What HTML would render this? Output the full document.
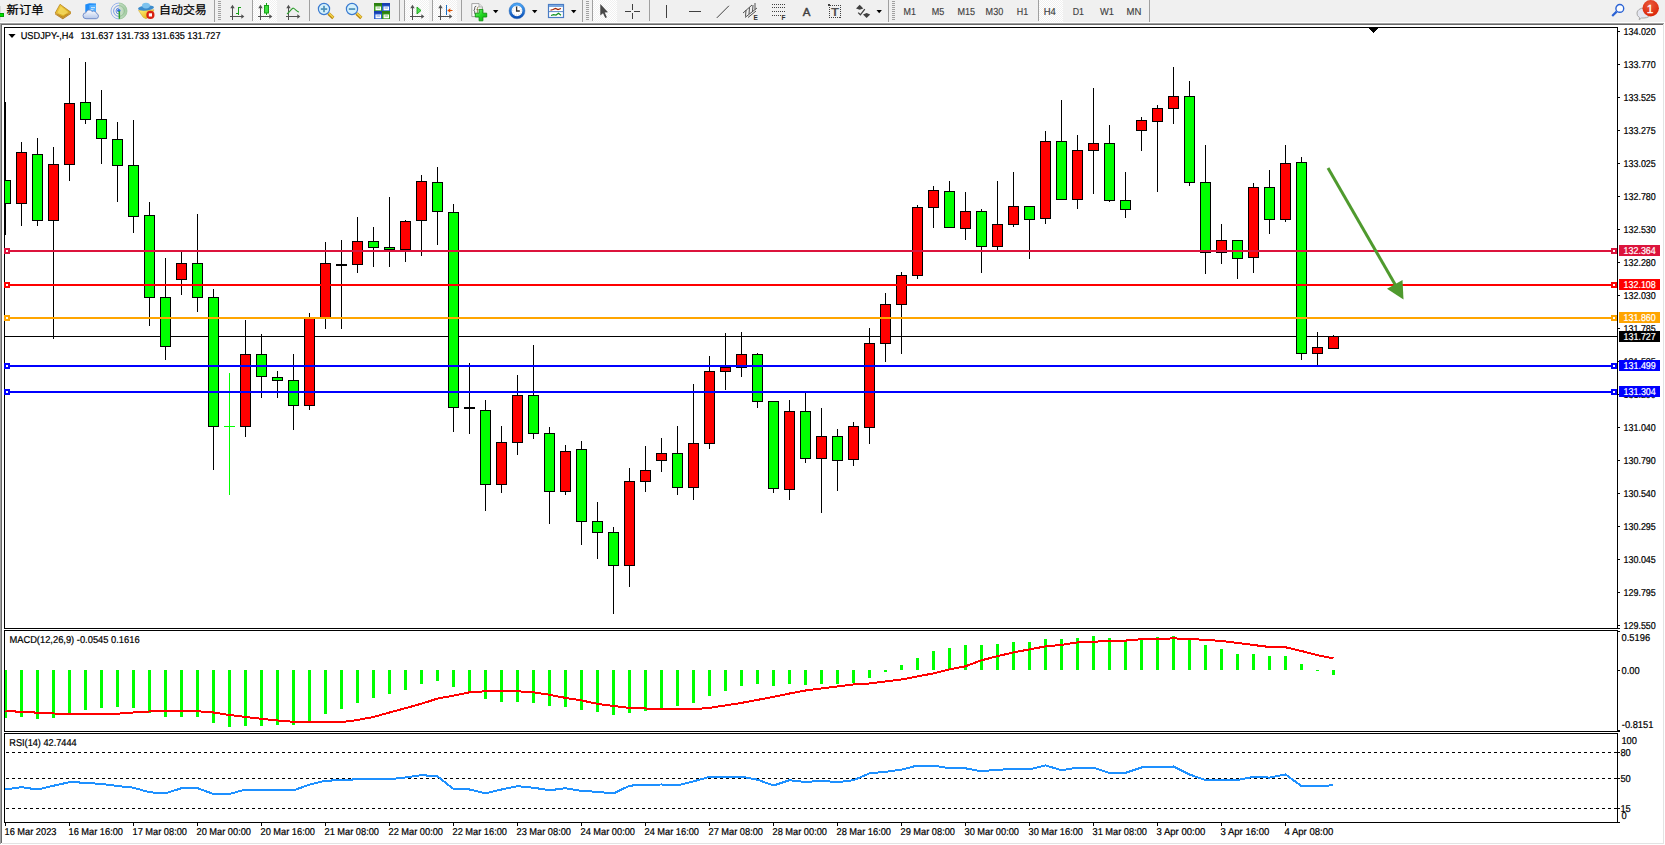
<!DOCTYPE html>
<html><head><meta charset="utf-8"><title>USDJPY-,H4</title>
<style>
html,body{margin:0;padding:0;background:#fff;overflow:hidden}
body{width:1665px;height:845px;font-family:"Liberation Sans","Noto Sans CJK SC",sans-serif}
svg{display:block}
</style></head><body>
<svg width="1665" height="845" viewBox="0 0 1665 845">
<rect x="0" y="0" width="1665" height="845" fill="#fff" />
<rect x="0" y="0" width="1665" height="22" fill="#f0f0f0" />
<rect x="0" y="22" width="1665" height="1" fill="#fff" />
<rect x="0" y="23" width="1664" height="1" fill="#a0a0a0" />
<rect x="1" y="24" width="1663" height="1" fill="#696969" />
<rect x="0" y="23" width="1" height="821" fill="#a0a0a0" />
<rect x="1" y="24" width="1" height="819" fill="#696969" />
<rect x="1663" y="24" width="1" height="820" fill="#e3e3e3" />
<rect x="2" y="843" width="1662" height="1" fill="#e3e3e3" />
<defs><pattern id="chk" width="2" height="2" patternUnits="userSpaceOnUse"><rect width="2" height="2" fill="#ffffff"/><rect width="1" height="1" fill="#f0f0f0"/><rect x="1" y="1" width="1" height="1" fill="#f0f0f0"/></pattern>
<radialGradient id="badge" cx="0.45" cy="0.3" r="0.8"><stop offset="0" stop-color="#ea5a3c"/><stop offset="1" stop-color="#d81e00"/></radialGradient>
<linearGradient id="gold" x1="0" y1="0" x2="1" y2="1"><stop offset="0" stop-color="#f7d64a"/><stop offset="1" stop-color="#c8920e"/></linearGradient>
<linearGradient id="blu" x1="0" y1="0" x2="0" y2="1"><stop offset="0" stop-color="#3aa0ff"/><stop offset="1" stop-color="#1273e0"/></linearGradient>
<linearGradient id="clk" x1="0" y1="0" x2="0" y2="1"><stop offset="0" stop-color="#4aa4f4"/><stop offset="1" stop-color="#0c4fb4"/></linearGradient><linearGradient id="plus" x1="0" y1="0" x2="1" y2="1"><stop offset="0" stop-color="#7cf07c"/><stop offset="0.5" stop-color="#22d822"/><stop offset="1" stop-color="#10a810"/></linearGradient>
<linearGradient id="cld" x1="0" y1="0" x2="0" y2="1"><stop offset="0" stop-color="#ffffff"/><stop offset="1" stop-color="#b4c6ea"/></linearGradient><linearGradient id="face" x1="0" y1="0" x2="1" y2="1"><stop offset="0" stop-color="#fff27a"/><stop offset="1" stop-color="#e0a400"/></linearGradient><radialGradient id="sig" cx="0" cy="0.5" r="1"><stop offset="0" stop-color="#5aa85a" stop-opacity="0.15"/><stop offset="1" stop-color="#5aa85a" stop-opacity="0.55"/></radialGradient>
</defs>
<rect x="0" y="6" width="1" height="14" fill="#d8d8d8"/>
<rect x="0" y="13" width="4" height="4" fill="#00a000"/><rect x="0" y="14" width="3" height="2" fill="#00e000"/>
<g font-family="'Liberation Sans','Noto Sans CJK SC',sans-serif" font-size="11.7" fill="#000" stroke="#000" stroke-width="0.25">
<text x="6.6" y="14.3" textLength="36.9" lengthAdjust="spacingAndGlyphs">新订单</text>
<text x="159.1" y="14.3" textLength="47.7" lengthAdjust="spacingAndGlyphs">自动交易</text>
</g>
<polygon points="55.2,13 60,4.3 71,12.2 63,17.4" fill="url(#gold)" stroke="#b07a10" stroke-width="0.7"/>
<polygon points="55.2,13 63,17.4 71,12.2 71,13.8 62.8,19.2 55.3,14.6" fill="#a86e12"/>
<polygon points="55.3,13.8 62.9,18.2 71,12.9" fill="none" stroke="#e8c060" stroke-width="0.5"/>
<polygon points="57.6,12.4 60.8,6.4 68.4,11.9 63.2,15.4" fill="#fbe870" opacity="0.6"/>
<polygon points="85.3,4.6 89.2,3.2 96,3.4 96,12.5 89.2,12.8 85.3,12" fill="#1e8cf8"/>
<polygon points="89.4,5 96,4.4 96,12.5 89.4,12.8" fill="#52b0ff"/><rect x="91" y="7.2" width="4" height="0.9" fill="#e4f2ff"/><rect x="90.5" y="9.2" width="3" height="0.9" fill="#d0e8ff"/>
<path d="M86,18.7 a3,3 0 0 1 0,-6 a3.4,3.4 0 0 1 6.2,-1.2 a3,3 0 0 1 4.4,2 a2.7,2.7 0 0 1 -0.2,5.2 z" fill="url(#cld)" stroke="#6a86c4" stroke-width="0.9"/>
<path d="M119,3 A8,8 0 0 1 119,19 Z" fill="url(#sig)"/>
<g fill="none" stroke-width="1" opacity="0.8"><path d="M119,3 a8,8 0 0 0 0,16" stroke="#86a8ea"/><path d="M119,5.6 a5.4,5.4 0 0 0 0,10.8" stroke="#5b8be0"/><path d="M119,8 a3,3 0 0 0 0,6" stroke="#4a78d8"/>
<path d="M119,3 a8,8 0 0 1 0,16" stroke="#9cc89c"/><path d="M119,5.6 a5.4,5.4 0 0 1 0,10.8" stroke="#8cc08c"/></g>
<circle cx="118.8" cy="10.6" r="1.7" fill="#2f6fdc"/><rect x="118.6" y="11" width="1.5" height="7.8" fill="#30a030"/>
<polygon points="138.5,10.4 154,9.8 151,15.5 146,18.8 143.2,17.3" fill="url(#face)" stroke="#c9a020" stroke-width="0.5"/>
<ellipse cx="146" cy="8" rx="8" ry="2.5" fill="#3c8ccc" transform="rotate(-6 146 8)"/><ellipse cx="146" cy="5.6" rx="4" ry="2.8" fill="#7cc2ee"/>
<circle cx="150.4" cy="14.9" r="4.1" fill="#d82010"/><rect x="148.8" y="13.3" width="3.2" height="3.2" fill="#fff"/>
<rect x="214" y="0" width="1" height="22" fill="#a0a0a0" shape-rendering="crispEdges"/>
<rect x="218" y="1" width="3" height="1" fill="#a0a0a0" shape-rendering="crispEdges"/>
<rect x="218" y="3" width="3" height="1" fill="#a0a0a0" shape-rendering="crispEdges"/>
<rect x="218" y="5" width="3" height="1" fill="#a0a0a0" shape-rendering="crispEdges"/>
<rect x="218" y="7" width="3" height="1" fill="#a0a0a0" shape-rendering="crispEdges"/>
<rect x="218" y="9" width="3" height="1" fill="#a0a0a0" shape-rendering="crispEdges"/>
<rect x="218" y="11" width="3" height="1" fill="#a0a0a0" shape-rendering="crispEdges"/>
<rect x="218" y="13" width="3" height="1" fill="#a0a0a0" shape-rendering="crispEdges"/>
<rect x="218" y="15" width="3" height="1" fill="#a0a0a0" shape-rendering="crispEdges"/>
<rect x="218" y="17" width="3" height="1" fill="#a0a0a0" shape-rendering="crispEdges"/>
<rect x="218" y="19" width="3" height="1" fill="#a0a0a0" shape-rendering="crispEdges"/>
<g fill="#505050" shape-rendering="crispEdges"><rect x="232" y="6" width="1" height="14"/><rect x="230" y="16" width="13" height="1"/></g>
<polygon points="230.3,8.2 232.5,4.8 234.7,8.2" fill="#505050"/><polygon points="241.3,14.3 244.3,16.5 241.3,18.7" fill="#505050"/>
<g fill="#18a018" shape-rendering="crispEdges"><rect x="238" y="7" width="1" height="8"/><rect x="238" y="7" width="3" height="1"/><rect x="236" y="13" width="3" height="1"/></g>
<rect x="252" y="0" width="1" height="21" fill="#a0a0a0" shape-rendering="crispEdges"/>
<rect x="253" y="0" width="24" height="22" fill="url(#chk)" shape-rendering="crispEdges"/>
<g fill="#505050" shape-rendering="crispEdges"><rect x="260" y="6" width="1" height="14"/><rect x="258" y="16" width="13" height="1"/></g>
<polygon points="258.3,8.2 260.5,4.8 262.7,8.2" fill="#505050"/><polygon points="269.3,14.3 272.3,16.5 269.3,18.7" fill="#505050"/>
<rect x="266" y="3" width="1" height="12" fill="#18a018" shape-rendering="crispEdges"/><rect x="264.5" y="5.5" width="4" height="7.5" fill="#40e040" stroke="#18a018" stroke-width="1"/>
<g fill="#505050" shape-rendering="crispEdges"><rect x="288" y="6" width="1" height="14"/><rect x="286" y="16" width="13" height="1"/></g>
<polygon points="286.3,8.2 288.5,4.8 290.7,8.2" fill="#505050"/><polygon points="297.3,14.3 300.3,16.5 297.3,18.7" fill="#505050"/>
<path d="M287,14 C291,11 292,7.5 293.5,8.2 C295.5,9 297,12 299,12" fill="none" stroke="#30a030" stroke-width="1.1"/>
<rect x="309" y="0" width="1" height="21" fill="#a0a0a0" shape-rendering="crispEdges"/>
<line x1="328.5" y1="13.5" x2="333.3" y2="18" stroke="#b8860b" stroke-width="3.2"/><line x1="328.8" y1="13.2" x2="333.3" y2="17.5" stroke="#f2d24a" stroke-width="1.6"/>
<circle cx="324" cy="9" r="5.6" fill="#d4f0fb" stroke="#3a7ad0" stroke-width="1.2"/>
<rect x="320.8" y="8.2" width="6.4" height="1.7" fill="#4c8fb8"/>
<rect x="323.15" y="5.8" width="1.7" height="6.4" fill="#4c8fb8"/>
<line x1="356.5" y1="13.5" x2="361.3" y2="18" stroke="#b8860b" stroke-width="3.2"/><line x1="356.8" y1="13.2" x2="361.3" y2="17.5" stroke="#f2d24a" stroke-width="1.6"/>
<circle cx="352" cy="9" r="5.6" fill="#d4f0fb" stroke="#3a7ad0" stroke-width="1.2"/>
<rect x="348.8" y="8.2" width="6.4" height="1.7" fill="#4c8fb8"/>
<rect x="374" y="3" width="8" height="8" fill="#3a9a1c"/><rect x="374" y="3" width="8" height="2.5" fill="#2c8010"/><rect x="375.5" y="6.5" width="5.5" height="3.8" fill="#fff"/><rect x="376.5" y="7.5" width="3.5" height="1" fill="#3a9a1c" opacity="0.6"/>
<rect x="382" y="3" width="8" height="8" fill="#2a5fd0"/><rect x="382" y="3" width="8" height="2.5" fill="#1840b0"/><rect x="383.5" y="6.5" width="5.5" height="3.8" fill="#fff"/><rect x="384.5" y="7.5" width="3.5" height="1" fill="#2a5fd0" opacity="0.6"/>
<rect x="374" y="11" width="8" height="8" fill="#2a5fd0"/><rect x="374" y="11" width="8" height="2.5" fill="#1840b0"/><rect x="375.5" y="14.5" width="5.5" height="3.8" fill="#fff"/><rect x="376.5" y="15.5" width="3.5" height="1" fill="#2a5fd0" opacity="0.6"/>
<rect x="382" y="11" width="8" height="8" fill="#3a9a1c"/><rect x="382" y="11" width="8" height="2.5" fill="#2c8010"/><rect x="383.5" y="14.5" width="5.5" height="3.8" fill="#fff"/><rect x="384.5" y="15.5" width="3.5" height="1" fill="#3a9a1c" opacity="0.6"/>
<rect x="399" y="0" width="1" height="21" fill="#a0a0a0" shape-rendering="crispEdges"/>
<rect x="404" y="0" width="1" height="21" fill="#a0a0a0" shape-rendering="crispEdges"/>
<rect x="405" y="0" width="24" height="22" fill="url(#chk)" shape-rendering="crispEdges"/>
<g fill="#505050" shape-rendering="crispEdges"><rect x="412" y="6" width="1" height="14"/><rect x="410" y="16" width="13" height="1"/></g>
<polygon points="410.3,8.2 412.5,4.8 414.7,8.2" fill="#505050"/><polygon points="421.3,14.3 424.3,16.5 421.3,18.7" fill="#505050"/>
<polygon points="417,7 417,14 421,10.5" fill="#50e050" stroke="#18a018" stroke-width="0.9"/>
<rect x="432" y="0" width="1" height="21" fill="#a0a0a0" shape-rendering="crispEdges"/>
<rect x="433" y="0" width="24" height="22" fill="url(#chk)" shape-rendering="crispEdges"/>
<g fill="#505050" shape-rendering="crispEdges"><rect x="440" y="6" width="1" height="14"/><rect x="438" y="16" width="13" height="1"/></g>
<polygon points="438.3,8.2 440.5,4.8 442.7,8.2" fill="#505050"/><polygon points="449.3,14.3 452.3,16.5 449.3,18.7" fill="#505050"/>
<rect x="446" y="5" width="1" height="10" fill="#1870c8" shape-rendering="crispEdges"/><polygon points="447.3,10.5 450.3,8.3 450.3,12.7" fill="#e05000"/><rect x="449" y="10" width="3.5" height="1" fill="#e05000"/>
<rect x="461" y="0" width="1" height="21" fill="#a0a0a0" shape-rendering="crispEdges"/>
<path d="M471.8,3.6 h7.2 l3.4,3.4 v9.6 h-10.6 z" fill="#fbfbfb" stroke="#9a9a9a" stroke-width="0.9"/><path d="M479,3.6 v3.4 h3.4" fill="#e4e4e4" stroke="#9a9a9a" stroke-width="0.7"/>
<path d="M476.3,6.2 q-1.6,0 -1.6,1.6 v1.2 q0,1.2 -1,1.4 q1,0.2 1,1.4 v1.2 q0,1.6 1.6,1.6" fill="none" stroke="#505050" stroke-width="0.9"/><path d="M478.6,7 q-1.2,-0.2 -1.2,1.4 v4.5 M476.4,9.6 h2.2" fill="none" stroke="#807040" stroke-width="0.8"/>
<path d="M479.1,9.4 h3.8 v3.8 h3.8 v3.8 h-3.8 v3.8 h-3.8 v-3.8 h-3.8 v-3.8 h3.8 z" fill="url(#plus)" stroke="#109010" stroke-width="0.9"/>
<polygon points="493,10 498.4,10 495.7,13.2" fill="#000"/>
<circle cx="517" cy="10.8" r="6.7" fill="#fff" stroke="url(#clk)" stroke-width="2.6"/><circle cx="517" cy="10.8" r="8" fill="none" stroke="#1458b0" stroke-width="0.5" opacity="0.7"/>
<circle cx="517" cy="10.8" r="4.3" fill="none" stroke="#b8b8b8" stroke-width="0.9" stroke-dasharray="0.7 1.55"/>
<path d="M516.6,6.6 v4.4 h3.2" fill="none" stroke="#303030" stroke-width="1.3"/>
<polygon points="532,10 537.4,10 534.7,13.2" fill="#000"/>
<rect x="548.5" y="4.5" width="15" height="13" fill="#fff" stroke="#4a7cc4" stroke-width="1.2"/><rect x="549" y="5" width="14" height="2" fill="#7aa8e0"/><rect x="549" y="11.2" width="14" height="0.9" fill="#4a7cc4"/>
<path d="M550.5,10.3 l2.5,-0.8 l2.5,-1 l2.5,1 l3,-1" fill="none" stroke="#a02000" stroke-width="1.2"/><path d="M551,15.5 l2.5,-0.8 l2.5,0.4 l2.5,-1.8 l2.5,2" fill="none" stroke="#109020" stroke-width="1.2"/>
<polygon points="571,10 576.4,10 573.7,13.2" fill="#000"/>
<rect x="582" y="0" width="1" height="22" fill="#a0a0a0" shape-rendering="crispEdges"/>
<rect x="586" y="1" width="3" height="1" fill="#a0a0a0" shape-rendering="crispEdges"/>
<rect x="586" y="3" width="3" height="1" fill="#a0a0a0" shape-rendering="crispEdges"/>
<rect x="586" y="5" width="3" height="1" fill="#a0a0a0" shape-rendering="crispEdges"/>
<rect x="586" y="7" width="3" height="1" fill="#a0a0a0" shape-rendering="crispEdges"/>
<rect x="586" y="9" width="3" height="1" fill="#a0a0a0" shape-rendering="crispEdges"/>
<rect x="586" y="11" width="3" height="1" fill="#a0a0a0" shape-rendering="crispEdges"/>
<rect x="586" y="13" width="3" height="1" fill="#a0a0a0" shape-rendering="crispEdges"/>
<rect x="586" y="15" width="3" height="1" fill="#a0a0a0" shape-rendering="crispEdges"/>
<rect x="586" y="17" width="3" height="1" fill="#a0a0a0" shape-rendering="crispEdges"/>
<rect x="586" y="19" width="3" height="1" fill="#a0a0a0" shape-rendering="crispEdges"/>
<rect x="592" y="0" width="1" height="21" fill="#a0a0a0" shape-rendering="crispEdges"/>
<rect x="593" y="0" width="24" height="22" fill="url(#chk)" shape-rendering="crispEdges"/>
<polygon points="600.3,4 600.3,15.5 603,13.2 605.3,18 606.9,17.2 604.7,12.6 608,12.3" fill="#484848"/>
<g fill="#404040" shape-rendering="crispEdges"><rect x="625" y="11" width="6" height="1"/><rect x="634" y="11" width="6" height="1"/><rect x="632" y="4" width="1" height="6"/><rect x="632" y="13" width="1" height="6"/></g>
<rect x="649" y="0" width="1" height="21" fill="#a0a0a0" shape-rendering="crispEdges"/>
<g fill="#404040" shape-rendering="crispEdges"><rect x="666" y="5" width="1" height="13"/><rect x="689" y="11" width="12" height="1"/></g>
<line x1="716.8" y1="17.9" x2="728.9" y2="5.8" stroke="#404040" stroke-width="1"/>
<g stroke="#404040" stroke-width="0.9" fill="none"><line x1="743" y1="13" x2="752" y2="5"/><line x1="745" y1="17.5" x2="757" y2="8"/><line x1="748" y1="17.5" x2="756" y2="11"/><line x1="746" y1="10" x2="745.5" y2="16.5"/><line x1="749.5" y1="7.5" x2="749" y2="14"/><line x1="753" y1="5" x2="752.5" y2="11.5"/><line x1="755" y1="3" x2="755" y2="9.5"/></g>
<text x="753.6" y="19.6" font-family="'Liberation Sans',sans-serif" font-size="6.5" font-weight="bold" fill="#303030">E</text>
<g stroke="#404040" stroke-width="1" stroke-dasharray="1 1" shape-rendering="crispEdges"><line x1="772" x2="785" y1="4.5" y2="4.5"/><line x1="772" x2="785" y1="7.5" y2="7.5"/><line x1="772" x2="785" y1="11.5" y2="11.5"/><line x1="772" x2="781" y1="15.5" y2="15.5"/></g>
<text x="781.6" y="19.6" font-family="'Liberation Sans',sans-serif" font-size="6.5" font-weight="bold" fill="#303030">F</text>
<text x="802.7" y="15.9" font-family="'Liberation Sans',sans-serif" font-size="11.5" fill="#404040" stroke="#404040" stroke-width="0.45">A</text>
<rect x="829.5" y="5.5" width="11" height="12" fill="none" stroke="#404040" stroke-width="1" stroke-dasharray="1 1" shape-rendering="crispEdges"/><rect x="828" y="4" width="2" height="2" fill="#404040"/>
<text x="830.9" y="15.9" font-family="'Liberation Sans',sans-serif" font-size="11.5" font-weight="bold" fill="#505050" textLength="8" lengthAdjust="spacingAndGlyphs">T</text>
<polygon points="856,8.4 859.7,4.8 863.3,8.4 859.7,9.8" fill="#404040"/><polygon points="863,14.4 866.6,13 870.2,14.4 866.6,18.1" fill="#404040"/><path d="M858.2,12.6 l2.2,2.2 l4.4,-5.6" fill="none" stroke="#404040" stroke-width="1.3"/>
<polygon points="876.5,10 881.9,10 879.2,13.2" fill="#000"/>
<rect x="888" y="0" width="1" height="22" fill="#a0a0a0" shape-rendering="crispEdges"/>
<rect x="892" y="1" width="3" height="1" fill="#a0a0a0" shape-rendering="crispEdges"/>
<rect x="892" y="3" width="3" height="1" fill="#a0a0a0" shape-rendering="crispEdges"/>
<rect x="892" y="5" width="3" height="1" fill="#a0a0a0" shape-rendering="crispEdges"/>
<rect x="892" y="7" width="3" height="1" fill="#a0a0a0" shape-rendering="crispEdges"/>
<rect x="892" y="9" width="3" height="1" fill="#a0a0a0" shape-rendering="crispEdges"/>
<rect x="892" y="11" width="3" height="1" fill="#a0a0a0" shape-rendering="crispEdges"/>
<rect x="892" y="13" width="3" height="1" fill="#a0a0a0" shape-rendering="crispEdges"/>
<rect x="892" y="15" width="3" height="1" fill="#a0a0a0" shape-rendering="crispEdges"/>
<rect x="892" y="17" width="3" height="1" fill="#a0a0a0" shape-rendering="crispEdges"/>
<rect x="892" y="19" width="3" height="1" fill="#a0a0a0" shape-rendering="crispEdges"/>
<rect x="1039" y="0" width="24" height="22" fill="url(#chk)" shape-rendering="crispEdges"/>
<rect x="1038" y="0" width="1" height="21" fill="#a0a0a0" shape-rendering="crispEdges"/>
<g font-family="'Liberation Sans',sans-serif" font-size="10.2" fill="#404040" stroke="#404040" stroke-width="0.15" text-rendering="geometricPrecision">
<text x="903.6" y="15.1" textLength="12.4" lengthAdjust="spacingAndGlyphs">M1</text>
<text x="931.7" y="15.1" textLength="12.5" lengthAdjust="spacingAndGlyphs">M5</text>
<text x="957.5" y="15.1" textLength="17.6" lengthAdjust="spacingAndGlyphs">M15</text>
<text x="985.6" y="15.1" textLength="17.6" lengthAdjust="spacingAndGlyphs">M30</text>
<text x="1016.8" y="15.1" textLength="11.4" lengthAdjust="spacingAndGlyphs">H1</text>
<text x="1043.7" y="15.1" textLength="12.1" lengthAdjust="spacingAndGlyphs">H4</text>
<text x="1072.7" y="15.1" textLength="11.3" lengthAdjust="spacingAndGlyphs">D1</text>
<text x="1100" y="15.1" textLength="14" lengthAdjust="spacingAndGlyphs">W1</text>
<text x="1126.6" y="15.1" textLength="14.8" lengthAdjust="spacingAndGlyphs">MN</text>
</g>
<rect x="1149" y="0" width="1" height="22" fill="#a0a0a0" shape-rendering="crispEdges"/>
<circle cx="1619.8" cy="8.4" r="3.9" fill="#fafcff" stroke="#2a62d4" stroke-width="1.4"/><line x1="1616.6" y1="11.6" x2="1612.2" y2="16" stroke="#2a62d4" stroke-width="2.2"/>
<path d="M1637,13 a7,5 0 0 1 14,0 a7,5 0 0 1 -7,5 h-2.5 l-2.3,1.8 l0.4,-2.2 a7,5 0 0 1 -2.6,-4.6 z" fill="#e4e6f0" stroke="#a8a8a8" stroke-width="1"/>
<circle cx="1650.7" cy="8.2" r="8.2" fill="url(#badge)"/>
<text x="1650" y="12.9" font-family="'Liberation Sans',sans-serif" font-size="11.8" fill="#fff" text-anchor="middle" stroke="#fff" stroke-width="0.3">1</text>
<g shape-rendering="crispEdges">
<rect x="4" y="27" width="1614" height="1" fill="#000" />
<rect x="4" y="27" width="1" height="602" fill="#000" />
<rect x="4" y="628" width="1616" height="1" fill="#000" />
<rect x="4" y="630" width="1614" height="1" fill="#000" />
<rect x="4" y="630" width="1" height="102" fill="#000" />
<rect x="4" y="731" width="1616" height="1" fill="#000" />
<rect x="4" y="733" width="1614" height="1" fill="#000" />
<rect x="4" y="733" width="1" height="90" fill="#000" />
<rect x="4" y="822" width="1616" height="1" fill="#000" />
<rect x="1617" y="27" width="1" height="796" fill="#000" />
<rect x="1617" y="629" width="1" height="1" fill="#fff" />
<rect x="1617" y="732" width="1" height="1" fill="#fff" />
<rect x="5" y="336" width="1612" height="1" fill="#000" />
<rect x="5" y="102" width="1" height="133" fill="#000" />
<rect x="5" y="180" width="6" height="24" fill="#000" />
<rect x="5" y="181" width="5" height="22" fill="#00ff00" />
<rect x="21" y="142" width="1" height="84" fill="#000" />
<rect x="16" y="152" width="11" height="52" fill="#000" />
<rect x="17" y="153" width="9" height="50" fill="#ff0000" />
<rect x="37" y="138" width="1" height="88" fill="#000" />
<rect x="32" y="154" width="11" height="67" fill="#000" />
<rect x="33" y="155" width="9" height="65" fill="#00ff00" />
<rect x="53" y="147" width="1" height="192" fill="#000" />
<rect x="48" y="164" width="11" height="57" fill="#000" />
<rect x="49" y="165" width="9" height="55" fill="#ff0000" />
<rect x="69" y="58" width="1" height="123" fill="#000" />
<rect x="64" y="103" width="11" height="62" fill="#000" />
<rect x="65" y="104" width="9" height="60" fill="#ff0000" />
<rect x="85" y="62" width="1" height="62" fill="#000" />
<rect x="80" y="102" width="11" height="18" fill="#000" />
<rect x="81" y="103" width="9" height="16" fill="#00ff00" />
<rect x="101" y="90" width="1" height="74" fill="#000" />
<rect x="96" y="119" width="11" height="20" fill="#000" />
<rect x="97" y="120" width="9" height="18" fill="#00ff00" />
<rect x="117" y="122" width="1" height="80" fill="#000" />
<rect x="112" y="139" width="11" height="27" fill="#000" />
<rect x="113" y="140" width="9" height="25" fill="#00ff00" />
<rect x="133" y="120" width="1" height="113" fill="#000" />
<rect x="128" y="165" width="11" height="52" fill="#000" />
<rect x="129" y="166" width="9" height="50" fill="#00ff00" />
<rect x="149" y="202" width="1" height="124" fill="#000" />
<rect x="144" y="215" width="11" height="83" fill="#000" />
<rect x="145" y="216" width="9" height="81" fill="#00ff00" />
<rect x="165" y="258" width="1" height="102" fill="#000" />
<rect x="160" y="297" width="11" height="50" fill="#000" />
<rect x="161" y="298" width="9" height="48" fill="#00ff00" />
<rect x="181" y="252" width="1" height="43" fill="#000" />
<rect x="176" y="263" width="11" height="17" fill="#000" />
<rect x="177" y="264" width="9" height="15" fill="#ff0000" />
<rect x="197" y="214" width="1" height="98" fill="#000" />
<rect x="192" y="263" width="11" height="35" fill="#000" />
<rect x="193" y="264" width="9" height="33" fill="#00ff00" />
<rect x="213" y="289" width="1" height="181" fill="#000" />
<rect x="208" y="297" width="11" height="130" fill="#000" />
<rect x="209" y="298" width="9" height="128" fill="#00ff00" />
<rect x="229" y="373" width="1" height="122" fill="#00ff00" />
<rect x="224" y="426" width="11" height="1" fill="#00ff00" />
<rect x="245" y="320" width="1" height="117" fill="#000" />
<rect x="240" y="354" width="11" height="73" fill="#000" />
<rect x="241" y="355" width="9" height="71" fill="#ff0000" />
<rect x="261" y="334" width="1" height="64" fill="#000" />
<rect x="256" y="354" width="11" height="23" fill="#000" />
<rect x="257" y="355" width="9" height="21" fill="#00ff00" />
<rect x="277" y="371" width="1" height="27" fill="#000" />
<rect x="272" y="377" width="11" height="4" fill="#000" />
<rect x="273" y="378" width="9" height="2" fill="#00ff00" />
<rect x="293" y="354" width="1" height="76" fill="#000" />
<rect x="288" y="380" width="11" height="26" fill="#000" />
<rect x="289" y="381" width="9" height="24" fill="#00ff00" />
<rect x="309" y="313" width="1" height="97" fill="#000" />
<rect x="304" y="318" width="11" height="88" fill="#000" />
<rect x="305" y="319" width="9" height="86" fill="#ff0000" />
<rect x="325" y="242" width="1" height="87" fill="#000" />
<rect x="320" y="263" width="11" height="55" fill="#000" />
<rect x="321" y="264" width="9" height="53" fill="#ff0000" />
<rect x="341" y="240" width="1" height="89" fill="#000" />
<rect x="336" y="264" width="11" height="2" fill="#000" />
<rect x="357" y="217" width="1" height="56" fill="#000" />
<rect x="352" y="241" width="11" height="24" fill="#000" />
<rect x="353" y="242" width="9" height="22" fill="#ff0000" />
<rect x="373" y="227" width="1" height="40" fill="#000" />
<rect x="368" y="241" width="11" height="7" fill="#000" />
<rect x="369" y="242" width="9" height="5" fill="#00ff00" />
<rect x="389" y="197" width="1" height="70" fill="#000" />
<rect x="384" y="247" width="11" height="3" fill="#000" />
<rect x="385" y="248" width="9" height="1" fill="#00ff00" />
<rect x="405" y="220" width="1" height="42" fill="#000" />
<rect x="400" y="221" width="11" height="29" fill="#000" />
<rect x="401" y="222" width="9" height="27" fill="#ff0000" />
<rect x="421" y="175" width="1" height="81" fill="#000" />
<rect x="416" y="181" width="11" height="40" fill="#000" />
<rect x="417" y="182" width="9" height="38" fill="#ff0000" />
<rect x="437" y="167" width="1" height="78" fill="#000" />
<rect x="432" y="182" width="11" height="30" fill="#000" />
<rect x="433" y="183" width="9" height="28" fill="#00ff00" />
<rect x="453" y="204" width="1" height="228" fill="#000" />
<rect x="448" y="212" width="11" height="196" fill="#000" />
<rect x="449" y="213" width="9" height="194" fill="#00ff00" />
<rect x="469" y="363" width="1" height="71" fill="#000" />
<rect x="464" y="407" width="11" height="2" fill="#000" />
<rect x="485" y="400" width="1" height="111" fill="#000" />
<rect x="480" y="410" width="11" height="75" fill="#000" />
<rect x="481" y="411" width="9" height="73" fill="#00ff00" />
<rect x="501" y="426" width="1" height="67" fill="#000" />
<rect x="496" y="442" width="11" height="43" fill="#000" />
<rect x="497" y="443" width="9" height="41" fill="#ff0000" />
<rect x="517" y="375" width="1" height="80" fill="#000" />
<rect x="512" y="395" width="11" height="48" fill="#000" />
<rect x="513" y="396" width="9" height="46" fill="#ff0000" />
<rect x="533" y="345" width="1" height="94" fill="#000" />
<rect x="528" y="395" width="11" height="39" fill="#000" />
<rect x="529" y="396" width="9" height="37" fill="#00ff00" />
<rect x="549" y="427" width="1" height="97" fill="#000" />
<rect x="544" y="433" width="11" height="59" fill="#000" />
<rect x="545" y="434" width="9" height="57" fill="#00ff00" />
<rect x="565" y="445" width="1" height="50" fill="#000" />
<rect x="560" y="451" width="11" height="41" fill="#000" />
<rect x="561" y="452" width="9" height="39" fill="#ff0000" />
<rect x="581" y="441" width="1" height="104" fill="#000" />
<rect x="576" y="449" width="11" height="73" fill="#000" />
<rect x="577" y="450" width="9" height="71" fill="#00ff00" />
<rect x="597" y="502" width="1" height="57" fill="#000" />
<rect x="592" y="521" width="11" height="12" fill="#000" />
<rect x="593" y="522" width="9" height="10" fill="#00ff00" />
<rect x="613" y="527" width="1" height="87" fill="#000" />
<rect x="608" y="532" width="11" height="34" fill="#000" />
<rect x="609" y="533" width="9" height="32" fill="#00ff00" />
<rect x="629" y="468" width="1" height="119" fill="#000" />
<rect x="624" y="481" width="11" height="85" fill="#000" />
<rect x="625" y="482" width="9" height="83" fill="#ff0000" />
<rect x="645" y="446" width="1" height="46" fill="#000" />
<rect x="640" y="470" width="11" height="12" fill="#000" />
<rect x="641" y="471" width="9" height="10" fill="#ff0000" />
<rect x="661" y="438" width="1" height="34" fill="#000" />
<rect x="656" y="453" width="11" height="8" fill="#000" />
<rect x="657" y="454" width="9" height="6" fill="#ff0000" />
<rect x="677" y="426" width="1" height="69" fill="#000" />
<rect x="672" y="453" width="11" height="35" fill="#000" />
<rect x="673" y="454" width="9" height="33" fill="#00ff00" />
<rect x="693" y="384" width="1" height="116" fill="#000" />
<rect x="688" y="443" width="11" height="45" fill="#000" />
<rect x="689" y="444" width="9" height="43" fill="#ff0000" />
<rect x="709" y="356" width="1" height="93" fill="#000" />
<rect x="704" y="371" width="11" height="73" fill="#000" />
<rect x="705" y="372" width="9" height="71" fill="#ff0000" />
<rect x="725" y="333" width="1" height="57" fill="#000" />
<rect x="720" y="367" width="11" height="5" fill="#000" />
<rect x="721" y="368" width="9" height="3" fill="#ff0000" />
<rect x="741" y="332" width="1" height="45" fill="#000" />
<rect x="736" y="354" width="11" height="14" fill="#000" />
<rect x="737" y="355" width="9" height="12" fill="#ff0000" />
<rect x="757" y="353" width="1" height="55" fill="#000" />
<rect x="752" y="354" width="11" height="48" fill="#000" />
<rect x="753" y="355" width="9" height="46" fill="#00ff00" />
<rect x="773" y="401" width="1" height="92" fill="#000" />
<rect x="768" y="401" width="11" height="88" fill="#000" />
<rect x="769" y="402" width="9" height="86" fill="#00ff00" />
<rect x="789" y="400" width="1" height="100" fill="#000" />
<rect x="784" y="411" width="11" height="79" fill="#000" />
<rect x="785" y="412" width="9" height="77" fill="#ff0000" />
<rect x="805" y="393" width="1" height="70" fill="#000" />
<rect x="800" y="411" width="11" height="48" fill="#000" />
<rect x="801" y="412" width="9" height="46" fill="#00ff00" />
<rect x="821" y="408" width="1" height="105" fill="#000" />
<rect x="816" y="436" width="11" height="23" fill="#000" />
<rect x="817" y="437" width="9" height="21" fill="#ff0000" />
<rect x="837" y="429" width="1" height="62" fill="#000" />
<rect x="832" y="436" width="11" height="25" fill="#000" />
<rect x="833" y="437" width="9" height="23" fill="#00ff00" />
<rect x="853" y="422" width="1" height="44" fill="#000" />
<rect x="848" y="426" width="11" height="34" fill="#000" />
<rect x="849" y="427" width="9" height="32" fill="#ff0000" />
<rect x="869" y="328" width="1" height="116" fill="#000" />
<rect x="864" y="343" width="11" height="85" fill="#000" />
<rect x="865" y="344" width="9" height="83" fill="#ff0000" />
<rect x="885" y="293" width="1" height="69" fill="#000" />
<rect x="880" y="304" width="11" height="40" fill="#000" />
<rect x="881" y="305" width="9" height="38" fill="#ff0000" />
<rect x="901" y="272" width="1" height="82" fill="#000" />
<rect x="896" y="275" width="11" height="30" fill="#000" />
<rect x="897" y="276" width="9" height="28" fill="#ff0000" />
<rect x="917" y="205" width="1" height="74" fill="#000" />
<rect x="912" y="207" width="11" height="69" fill="#000" />
<rect x="913" y="208" width="9" height="67" fill="#ff0000" />
<rect x="933" y="186" width="1" height="42" fill="#000" />
<rect x="928" y="190" width="11" height="18" fill="#000" />
<rect x="929" y="191" width="9" height="16" fill="#ff0000" />
<rect x="949" y="181" width="1" height="47" fill="#000" />
<rect x="944" y="191" width="11" height="37" fill="#000" />
<rect x="945" y="192" width="9" height="35" fill="#00ff00" />
<rect x="965" y="192" width="1" height="48" fill="#000" />
<rect x="960" y="211" width="11" height="18" fill="#000" />
<rect x="961" y="212" width="9" height="16" fill="#ff0000" />
<rect x="981" y="209" width="1" height="64" fill="#000" />
<rect x="976" y="211" width="11" height="36" fill="#000" />
<rect x="977" y="212" width="9" height="34" fill="#00ff00" />
<rect x="997" y="181" width="1" height="69" fill="#000" />
<rect x="992" y="224" width="11" height="23" fill="#000" />
<rect x="993" y="225" width="9" height="21" fill="#ff0000" />
<rect x="1013" y="172" width="1" height="55" fill="#000" />
<rect x="1008" y="206" width="11" height="19" fill="#000" />
<rect x="1009" y="207" width="9" height="17" fill="#ff0000" />
<rect x="1029" y="206" width="1" height="53" fill="#000" />
<rect x="1024" y="206" width="11" height="14" fill="#000" />
<rect x="1025" y="207" width="9" height="12" fill="#00ff00" />
<rect x="1045" y="131" width="1" height="93" fill="#000" />
<rect x="1040" y="141" width="11" height="78" fill="#000" />
<rect x="1041" y="142" width="9" height="76" fill="#ff0000" />
<rect x="1061" y="100" width="1" height="100" fill="#000" />
<rect x="1056" y="141" width="11" height="59" fill="#000" />
<rect x="1057" y="142" width="9" height="57" fill="#00ff00" />
<rect x="1077" y="135" width="1" height="74" fill="#000" />
<rect x="1072" y="150" width="11" height="50" fill="#000" />
<rect x="1073" y="151" width="9" height="48" fill="#ff0000" />
<rect x="1093" y="88" width="1" height="106" fill="#000" />
<rect x="1088" y="143" width="11" height="8" fill="#000" />
<rect x="1089" y="144" width="9" height="6" fill="#ff0000" />
<rect x="1109" y="125" width="1" height="77" fill="#000" />
<rect x="1104" y="143" width="11" height="58" fill="#000" />
<rect x="1105" y="144" width="9" height="56" fill="#00ff00" />
<rect x="1125" y="172" width="1" height="46" fill="#000" />
<rect x="1120" y="200" width="11" height="10" fill="#000" />
<rect x="1121" y="201" width="9" height="8" fill="#00ff00" />
<rect x="1141" y="117" width="1" height="34" fill="#000" />
<rect x="1136" y="120" width="11" height="11" fill="#000" />
<rect x="1137" y="121" width="9" height="9" fill="#ff0000" />
<rect x="1157" y="105" width="1" height="87" fill="#000" />
<rect x="1152" y="108" width="11" height="14" fill="#000" />
<rect x="1153" y="109" width="9" height="12" fill="#ff0000" />
<rect x="1173" y="67" width="1" height="57" fill="#000" />
<rect x="1168" y="96" width="11" height="13" fill="#000" />
<rect x="1169" y="97" width="9" height="11" fill="#ff0000" />
<rect x="1189" y="81" width="1" height="105" fill="#000" />
<rect x="1184" y="96" width="11" height="87" fill="#000" />
<rect x="1185" y="97" width="9" height="85" fill="#00ff00" />
<rect x="1205" y="145" width="1" height="129" fill="#000" />
<rect x="1200" y="182" width="11" height="71" fill="#000" />
<rect x="1201" y="183" width="9" height="69" fill="#00ff00" />
<rect x="1221" y="224" width="1" height="40" fill="#000" />
<rect x="1216" y="240" width="11" height="13" fill="#000" />
<rect x="1217" y="241" width="9" height="11" fill="#ff0000" />
<rect x="1237" y="240" width="1" height="39" fill="#000" />
<rect x="1232" y="240" width="11" height="19" fill="#000" />
<rect x="1233" y="241" width="9" height="17" fill="#00ff00" />
<rect x="1253" y="183" width="1" height="90" fill="#000" />
<rect x="1248" y="187" width="11" height="71" fill="#000" />
<rect x="1249" y="188" width="9" height="69" fill="#ff0000" />
<rect x="1269" y="170" width="1" height="64" fill="#000" />
<rect x="1264" y="187" width="11" height="33" fill="#000" />
<rect x="1265" y="188" width="9" height="31" fill="#00ff00" />
<rect x="1285" y="145" width="1" height="77" fill="#000" />
<rect x="1280" y="163" width="11" height="57" fill="#000" />
<rect x="1281" y="164" width="9" height="55" fill="#ff0000" />
<rect x="1301" y="157" width="1" height="203" fill="#000" />
<rect x="1296" y="162" width="11" height="192" fill="#000" />
<rect x="1297" y="163" width="9" height="190" fill="#00ff00" />
<rect x="1317" y="332" width="1" height="34" fill="#000" />
<rect x="1312" y="347" width="11" height="7" fill="#000" />
<rect x="1313" y="348" width="9" height="5" fill="#ff0000" />
<rect x="1333" y="335" width="1" height="14" fill="#000" />
<rect x="1328" y="336" width="11" height="13" fill="#000" />
<rect x="1329" y="337" width="9" height="11" fill="#ff0000" />
<rect x="5" y="250" width="1612" height="2" fill="#dc143c" />
<rect x="4" y="248" width="6" height="6" fill="#dc143c" />
<rect x="1611" y="248" width="6" height="6" fill="#dc143c" />
<rect x="6" y="250" width="2" height="2" fill="#fff" />
<rect x="1613" y="250" width="2" height="2" fill="#fff" />
<rect x="5" y="284" width="1612" height="2" fill="#ff0000" />
<rect x="4" y="282" width="6" height="6" fill="#ff0000" />
<rect x="1611" y="282" width="6" height="6" fill="#ff0000" />
<rect x="6" y="284" width="2" height="2" fill="#fff" />
<rect x="1613" y="284" width="2" height="2" fill="#fff" />
<rect x="5" y="317" width="1612" height="2" fill="#ffa500" />
<rect x="4" y="315" width="6" height="6" fill="#ffa500" />
<rect x="1611" y="315" width="6" height="6" fill="#ffa500" />
<rect x="6" y="317" width="2" height="2" fill="#fff" />
<rect x="1613" y="317" width="2" height="2" fill="#fff" />
<rect x="5" y="365" width="1612" height="2" fill="#0000ff" />
<rect x="4" y="363" width="6" height="6" fill="#0000ff" />
<rect x="1611" y="363" width="6" height="6" fill="#0000ff" />
<rect x="6" y="365" width="2" height="2" fill="#fff" />
<rect x="1613" y="365" width="2" height="2" fill="#fff" />
<rect x="5" y="391" width="1612" height="2" fill="#0000ff" />
<rect x="4" y="389" width="6" height="6" fill="#0000ff" />
<rect x="1611" y="389" width="6" height="6" fill="#0000ff" />
<rect x="6" y="391" width="2" height="2" fill="#fff" />
<rect x="1613" y="391" width="2" height="2" fill="#fff" />
<rect x="5" y="670" width="2" height="48" fill="#00ff00" />
<rect x="20" y="670" width="3" height="47" fill="#00ff00" />
<rect x="36" y="670" width="3" height="49" fill="#00ff00" />
<rect x="52" y="670" width="3" height="48" fill="#00ff00" />
<rect x="68" y="670" width="3" height="43" fill="#00ff00" />
<rect x="84" y="670" width="3" height="40" fill="#00ff00" />
<rect x="100" y="670" width="3" height="38" fill="#00ff00" />
<rect x="116" y="670" width="3" height="37" fill="#00ff00" />
<rect x="132" y="670" width="3" height="38" fill="#00ff00" />
<rect x="148" y="670" width="3" height="43" fill="#00ff00" />
<rect x="164" y="670" width="3" height="47" fill="#00ff00" />
<rect x="180" y="670" width="3" height="47" fill="#00ff00" />
<rect x="196" y="670" width="3" height="47" fill="#00ff00" />
<rect x="212" y="670" width="3" height="53" fill="#00ff00" />
<rect x="228" y="670" width="3" height="57" fill="#00ff00" />
<rect x="244" y="670" width="3" height="56" fill="#00ff00" />
<rect x="260" y="670" width="3" height="56" fill="#00ff00" />
<rect x="276" y="670" width="3" height="55" fill="#00ff00" />
<rect x="292" y="670" width="3" height="55" fill="#00ff00" />
<rect x="308" y="670" width="3" height="52" fill="#00ff00" />
<rect x="324" y="670" width="3" height="44" fill="#00ff00" />
<rect x="340" y="670" width="3" height="39" fill="#00ff00" />
<rect x="356" y="670" width="3" height="33" fill="#00ff00" />
<rect x="372" y="670" width="3" height="28" fill="#00ff00" />
<rect x="388" y="670" width="3" height="24" fill="#00ff00" />
<rect x="404" y="670" width="3" height="20" fill="#00ff00" />
<rect x="420" y="670" width="3" height="14" fill="#00ff00" />
<rect x="436" y="670" width="3" height="11" fill="#00ff00" />
<rect x="452" y="670" width="3" height="17" fill="#00ff00" />
<rect x="468" y="670" width="3" height="22" fill="#00ff00" />
<rect x="484" y="670" width="3" height="29" fill="#00ff00" />
<rect x="500" y="670" width="3" height="32" fill="#00ff00" />
<rect x="516" y="670" width="3" height="32" fill="#00ff00" />
<rect x="532" y="670" width="3" height="33" fill="#00ff00" />
<rect x="548" y="670" width="3" height="36" fill="#00ff00" />
<rect x="564" y="670" width="3" height="37" fill="#00ff00" />
<rect x="580" y="670" width="3" height="40" fill="#00ff00" />
<rect x="596" y="670" width="3" height="42" fill="#00ff00" />
<rect x="612" y="670" width="3" height="45" fill="#00ff00" />
<rect x="628" y="670" width="3" height="43" fill="#00ff00" />
<rect x="644" y="670" width="3" height="41" fill="#00ff00" />
<rect x="660" y="670" width="3" height="38" fill="#00ff00" />
<rect x="676" y="670" width="3" height="36" fill="#00ff00" />
<rect x="692" y="670" width="3" height="33" fill="#00ff00" />
<rect x="708" y="670" width="3" height="26" fill="#00ff00" />
<rect x="724" y="670" width="3" height="21" fill="#00ff00" />
<rect x="740" y="670" width="3" height="16" fill="#00ff00" />
<rect x="756" y="670" width="3" height="14" fill="#00ff00" />
<rect x="772" y="670" width="3" height="16" fill="#00ff00" />
<rect x="788" y="670" width="3" height="14" fill="#00ff00" />
<rect x="804" y="670" width="3" height="15" fill="#00ff00" />
<rect x="820" y="670" width="3" height="14" fill="#00ff00" />
<rect x="836" y="670" width="3" height="14" fill="#00ff00" />
<rect x="852" y="670" width="3" height="13" fill="#00ff00" />
<rect x="868" y="670" width="3" height="8" fill="#00ff00" />
<rect x="884" y="670" width="3" height="2" fill="#00ff00" />
<rect x="900" y="665" width="3" height="5" fill="#00ff00" />
<rect x="916" y="658" width="3" height="12" fill="#00ff00" />
<rect x="932" y="651" width="3" height="19" fill="#00ff00" />
<rect x="948" y="648" width="3" height="22" fill="#00ff00" />
<rect x="964" y="645" width="3" height="25" fill="#00ff00" />
<rect x="980" y="645" width="3" height="25" fill="#00ff00" />
<rect x="996" y="644" width="3" height="26" fill="#00ff00" />
<rect x="1012" y="642" width="3" height="28" fill="#00ff00" />
<rect x="1028" y="642" width="3" height="28" fill="#00ff00" />
<rect x="1044" y="639" width="3" height="31" fill="#00ff00" />
<rect x="1060" y="639" width="3" height="31" fill="#00ff00" />
<rect x="1076" y="638" width="3" height="32" fill="#00ff00" />
<rect x="1092" y="636" width="3" height="34" fill="#00ff00" />
<rect x="1108" y="638" width="3" height="32" fill="#00ff00" />
<rect x="1124" y="640" width="3" height="30" fill="#00ff00" />
<rect x="1140" y="640" width="3" height="30" fill="#00ff00" />
<rect x="1156" y="637" width="3" height="33" fill="#00ff00" />
<rect x="1172" y="636" width="3" height="34" fill="#00ff00" />
<rect x="1188" y="638" width="3" height="32" fill="#00ff00" />
<rect x="1204" y="645" width="3" height="25" fill="#00ff00" />
<rect x="1220" y="649" width="3" height="21" fill="#00ff00" />
<rect x="1236" y="654" width="3" height="16" fill="#00ff00" />
<rect x="1252" y="654" width="3" height="16" fill="#00ff00" />
<rect x="1268" y="656" width="3" height="14" fill="#00ff00" />
<rect x="1284" y="656" width="3" height="14" fill="#00ff00" />
<rect x="1300" y="664" width="3" height="6" fill="#00ff00" />
<rect x="1316" y="670" width="3" height="1" fill="#00ff00" />
<rect x="1332" y="670" width="3" height="5" fill="#00ff00" />
</g>
<polyline points="5.5,711.2 21.5,711.7 37.5,712.7 53.5,713.5 69.5,713.7 85.5,713.7 101.5,713.7 117.5,713.7 133.5,712.5 149.5,711.5 165.5,711.2 181.5,711.2 197.5,711.2 213.5,712.5 229.5,715.0 245.5,717.0 261.5,718.8 277.5,720.5 293.5,721.8 309.5,722.1 325.5,722.1 341.5,722.1 357.5,720.0 373.5,717.0 389.5,712.5 405.5,708.2 421.5,703.7 437.5,698.6 453.5,695.6 469.5,692.3 485.5,691.3 501.5,691.3 517.5,691.3 533.5,692.3 549.5,694.8 565.5,697.9 581.5,700.4 597.5,703.9 613.5,705.9 629.5,707.9 645.5,708.5 661.5,709.2 677.5,709.2 693.5,709.2 709.5,707.9 725.5,705.4 741.5,702.9 757.5,699.9 773.5,696.8 789.5,693.5 805.5,690.5 821.5,688.5 837.5,686.5 853.5,684.5 869.5,683.5 885.5,681.5 901.5,679.5 917.5,676.4 933.5,673.4 949.5,669.3 965.5,666.3 981.5,660.3 997.5,656.2 1013.5,652.4 1029.5,649.4 1045.5,646.4 1061.5,644.9 1077.5,642.4 1093.5,641.9 1109.5,640.6 1125.5,640.6 1141.5,639.2 1157.5,638.9 1173.5,638.4 1189.5,638.9 1205.5,639.9 1221.5,640.9 1237.5,642.9 1253.5,645.0 1269.5,647.0 1285.5,647.3 1301.5,651.0 1317.5,655.2 1333.5,658.4" fill="none" stroke="#ff0000" stroke-width="2" stroke-linejoin="round" shape-rendering="crispEdges"/>
<g shape-rendering="crispEdges">
<line x1="6" x2="1617" y1="752.5" y2="752.5" stroke="#000" stroke-width="1" stroke-dasharray="3 3"/>
<line x1="6" x2="1617" y1="778.5" y2="778.5" stroke="#000" stroke-width="1" stroke-dasharray="3 3"/>
<line x1="6" x2="1617" y1="808.5" y2="808.5" stroke="#000" stroke-width="1" stroke-dasharray="3 3"/>
</g>
<polyline points="5.5,789.5 21.5,787.2 37.5,789.5 53.5,785.7 69.5,782.2 85.5,782.7 101.5,784.0 117.5,786.0 133.5,787.7 149.5,792.3 165.5,793.3 181.5,788.2 197.5,788.2 213.5,794.0 229.5,794.0 245.5,789.5 261.5,789.5 277.5,789.5 293.5,790.3 309.5,784.7 325.5,780.7 341.5,780.2 357.5,779.2 373.5,779.2 389.5,779.2 405.5,777.5 421.5,775.1 437.5,776.4 453.5,789.0 469.5,789.5 485.5,793.3 501.5,789.5 517.5,786.2 533.5,787.7 549.5,790.3 565.5,788.2 581.5,791.0 597.5,791.8 613.5,793.5 629.5,785.7 645.5,784.7 661.5,784.5 677.5,785.5 693.5,781.4 709.5,776.9 725.5,776.6 741.5,776.6 757.5,779.7 773.5,785.5 789.5,780.2 805.5,782.0 821.5,780.8 837.5,782.2 853.5,780.2 869.5,773.4 885.5,771.8 901.5,769.6 917.5,765.5 933.5,765.5 949.5,768.3 965.5,768.3 981.5,771.3 997.5,769.6 1013.5,769.3 1029.5,769.3 1045.5,765.3 1061.5,770.3 1077.5,767.6 1093.5,767.6 1109.5,772.9 1125.5,772.9 1141.5,767.5 1157.5,766.8 1173.5,766.5 1189.5,774.5 1205.5,780.1 1221.5,780.0 1237.5,780.1 1253.5,776.7 1269.5,777.6 1285.5,774.4 1301.5,786.1 1317.5,786.0 1333.5,785.3" fill="none" stroke="#1e90ff" stroke-width="2" stroke-linejoin="round" shape-rendering="crispEdges"/>
<line x1="1328" y1="168" x2="1396" y2="286" stroke="#4f9a2e" stroke-width="3"/>
<polygon points="1403.5,299.5 1402.5,280 1387,288.8" fill="#4f9a2e"/>
<g shape-rendering="crispEdges">
<rect x="1618" y="31" width="2" height="1" fill="#000" />
<rect x="1618" y="64" width="2" height="1" fill="#000" />
<rect x="1618" y="97" width="2" height="1" fill="#000" />
<rect x="1618" y="130" width="2" height="1" fill="#000" />
<rect x="1618" y="163" width="2" height="1" fill="#000" />
<rect x="1618" y="196" width="2" height="1" fill="#000" />
<rect x="1618" y="229" width="2" height="1" fill="#000" />
<rect x="1618" y="262" width="2" height="1" fill="#000" />
<rect x="1618" y="295" width="2" height="1" fill="#000" />
<rect x="1618" y="328" width="2" height="1" fill="#000" />
<rect x="1618" y="361" width="2" height="1" fill="#000" />
<rect x="1618" y="394" width="2" height="1" fill="#000" />
<rect x="1618" y="427" width="2" height="1" fill="#000" />
<rect x="1618" y="460" width="2" height="1" fill="#000" />
<rect x="1618" y="493" width="2" height="1" fill="#000" />
<rect x="1618" y="526" width="2" height="1" fill="#000" />
<rect x="1618" y="559" width="2" height="1" fill="#000" />
<rect x="1618" y="592" width="2" height="1" fill="#000" />
<rect x="1618" y="625" width="2" height="1" fill="#000" />
<rect x="1618" y="631" width="2" height="1" fill="#000" />
<rect x="1618" y="670" width="2" height="1" fill="#000" />
<rect x="1618" y="730" width="2" height="1" fill="#000" />
<rect x="1618" y="752" width="2" height="1" fill="#000" />
<rect x="1618" y="778" width="2" height="1" fill="#000" />
<rect x="1618" y="808" width="2" height="1" fill="#000" />
<rect x="5" y="823" width="1" height="3" fill="#000" />
<rect x="69" y="823" width="1" height="3" fill="#000" />
<rect x="133" y="823" width="1" height="3" fill="#000" />
<rect x="197" y="823" width="1" height="3" fill="#000" />
<rect x="261" y="823" width="1" height="3" fill="#000" />
<rect x="325" y="823" width="1" height="3" fill="#000" />
<rect x="389" y="823" width="1" height="3" fill="#000" />
<rect x="453" y="823" width="1" height="3" fill="#000" />
<rect x="517" y="823" width="1" height="3" fill="#000" />
<rect x="581" y="823" width="1" height="3" fill="#000" />
<rect x="645" y="823" width="1" height="3" fill="#000" />
<rect x="709" y="823" width="1" height="3" fill="#000" />
<rect x="773" y="823" width="1" height="3" fill="#000" />
<rect x="837" y="823" width="1" height="3" fill="#000" />
<rect x="901" y="823" width="1" height="3" fill="#000" />
<rect x="965" y="823" width="1" height="3" fill="#000" />
<rect x="1029" y="823" width="1" height="3" fill="#000" />
<rect x="1093" y="823" width="1" height="3" fill="#000" />
<rect x="1157" y="823" width="1" height="3" fill="#000" />
<rect x="1221" y="823" width="1" height="3" fill="#000" />
<rect x="1285" y="823" width="1" height="3" fill="#000" />
<polygon points="1369,28 1378,28 1373.5,33" fill="#000"/>
</g>
<g font-family="'Liberation Sans',sans-serif" stroke-width="0.22" text-rendering="geometricPrecision">
<text x="1623.5" y="35" font-size="10.0" fill="#000" stroke="#000" text-anchor="start" textLength="32.3" lengthAdjust="spacingAndGlyphs" >134.020</text>
<text x="1623.5" y="68" font-size="10.0" fill="#000" stroke="#000" text-anchor="start" textLength="32.3" lengthAdjust="spacingAndGlyphs" >133.770</text>
<text x="1623.5" y="101" font-size="10.0" fill="#000" stroke="#000" text-anchor="start" textLength="32.3" lengthAdjust="spacingAndGlyphs" >133.525</text>
<text x="1623.5" y="134" font-size="10.0" fill="#000" stroke="#000" text-anchor="start" textLength="32.3" lengthAdjust="spacingAndGlyphs" >133.275</text>
<text x="1623.5" y="167" font-size="10.0" fill="#000" stroke="#000" text-anchor="start" textLength="32.3" lengthAdjust="spacingAndGlyphs" >133.025</text>
<text x="1623.5" y="200" font-size="10.0" fill="#000" stroke="#000" text-anchor="start" textLength="32.3" lengthAdjust="spacingAndGlyphs" >132.780</text>
<text x="1623.5" y="233" font-size="10.0" fill="#000" stroke="#000" text-anchor="start" textLength="32.3" lengthAdjust="spacingAndGlyphs" >132.530</text>
<text x="1623.5" y="266" font-size="10.0" fill="#000" stroke="#000" text-anchor="start" textLength="32.3" lengthAdjust="spacingAndGlyphs" >132.280</text>
<text x="1623.5" y="299" font-size="10.0" fill="#000" stroke="#000" text-anchor="start" textLength="32.3" lengthAdjust="spacingAndGlyphs" >132.030</text>
<text x="1623.5" y="332" font-size="10.0" fill="#000" stroke="#000" text-anchor="start" textLength="32.3" lengthAdjust="spacingAndGlyphs" >131.785</text>
<text x="1623.5" y="365" font-size="10.0" fill="#000" stroke="#000" text-anchor="start" textLength="32.3" lengthAdjust="spacingAndGlyphs" >131.535</text>
<text x="1623.5" y="398" font-size="10.0" fill="#000" stroke="#000" text-anchor="start" textLength="32.3" lengthAdjust="spacingAndGlyphs" >131.290</text>
<text x="1623.5" y="431" font-size="10.0" fill="#000" stroke="#000" text-anchor="start" textLength="32.3" lengthAdjust="spacingAndGlyphs" >131.040</text>
<text x="1623.5" y="464" font-size="10.0" fill="#000" stroke="#000" text-anchor="start" textLength="32.3" lengthAdjust="spacingAndGlyphs" >130.790</text>
<text x="1623.5" y="497" font-size="10.0" fill="#000" stroke="#000" text-anchor="start" textLength="32.3" lengthAdjust="spacingAndGlyphs" >130.540</text>
<text x="1623.5" y="530" font-size="10.0" fill="#000" stroke="#000" text-anchor="start" textLength="32.3" lengthAdjust="spacingAndGlyphs" >130.295</text>
<text x="1623.5" y="563" font-size="10.0" fill="#000" stroke="#000" text-anchor="start" textLength="32.3" lengthAdjust="spacingAndGlyphs" >130.045</text>
<text x="1623.5" y="596" font-size="10.0" fill="#000" stroke="#000" text-anchor="start" textLength="32.3" lengthAdjust="spacingAndGlyphs" >129.795</text>
<text x="1623.5" y="629" font-size="10.0" fill="#000" stroke="#000" text-anchor="start" textLength="32.3" lengthAdjust="spacingAndGlyphs" >129.550</text>
<g shape-rendering="crispEdges">
<rect x="1619" y="245" width="41" height="11" fill="#dc143c" />
<rect x="1619" y="279" width="41" height="11" fill="#ff0000" />
<rect x="1619" y="312" width="41" height="11" fill="#ffa500" />
<rect x="1619" y="360" width="41" height="11" fill="#0000ff" />
<rect x="1619" y="386" width="41" height="11" fill="#0000ff" />
<rect x="1619" y="331" width="41" height="11" fill="#000" />
</g>
<text x="1623.5" y="254" font-size="10.0" fill="#fff" stroke="#fff" text-anchor="start" textLength="32.3" lengthAdjust="spacingAndGlyphs" >132.364</text>
<text x="1623.5" y="288" font-size="10.0" fill="#fff" stroke="#fff" text-anchor="start" textLength="32.3" lengthAdjust="spacingAndGlyphs" >132.108</text>
<text x="1623.5" y="321" font-size="10.0" fill="#fff" stroke="#fff" text-anchor="start" textLength="32.3" lengthAdjust="spacingAndGlyphs" >131.860</text>
<text x="1623.5" y="369" font-size="10.0" fill="#fff" stroke="#fff" text-anchor="start" textLength="32.3" lengthAdjust="spacingAndGlyphs" >131.499</text>
<text x="1623.5" y="395" font-size="10.0" fill="#fff" stroke="#fff" text-anchor="start" textLength="32.3" lengthAdjust="spacingAndGlyphs" >131.304</text>
<text x="1623.5" y="340" font-size="10.0" fill="#fff" stroke="#fff" text-anchor="start" textLength="32.3" lengthAdjust="spacingAndGlyphs" >131.727</text>
<text x="1621.6" y="641.0" font-size="10.0" fill="#000" stroke="#000" text-anchor="start" textLength="28.54" lengthAdjust="spacingAndGlyphs" >0.5196</text>
<text x="1621.6" y="674" font-size="10.0" fill="#000" stroke="#000" text-anchor="start" textLength="18.16" lengthAdjust="spacingAndGlyphs" >0.00</text>
<text x="1621.8" y="728.4" font-size="10.0" fill="#000" stroke="#000" text-anchor="start" textLength="31.64" lengthAdjust="spacingAndGlyphs" >-0.8151</text>
<text x="1621.4" y="743.8" font-size="10.0" fill="#000" stroke="#000" text-anchor="start" textLength="15.57" lengthAdjust="spacingAndGlyphs" >100</text>
<text x="1620.4" y="755.9" font-size="10.0" fill="#000" stroke="#000" text-anchor="start" textLength="10.38" lengthAdjust="spacingAndGlyphs" >80</text>
<text x="1620.4" y="781.9" font-size="10.0" fill="#000" stroke="#000" text-anchor="start" textLength="10.38" lengthAdjust="spacingAndGlyphs" >50</text>
<text x="1620.4" y="811.8" font-size="10.0" fill="#000" stroke="#000" text-anchor="start" textLength="10.38" lengthAdjust="spacingAndGlyphs" >15</text>
<text x="1621.4" y="818.9" font-size="10.0" fill="#000" stroke="#000" text-anchor="start" textLength="5.19" lengthAdjust="spacingAndGlyphs" >0</text>
<text x="4.5" y="835" font-size="10.0" fill="#000" stroke="#000" text-anchor="start" textLength="51.94" lengthAdjust="spacingAndGlyphs" >16 Mar 2023</text>
<text x="68.5" y="835" font-size="10.0" fill="#000" stroke="#000" text-anchor="start" textLength="54.51" lengthAdjust="spacingAndGlyphs" >16 Mar 16:00</text>
<text x="132.5" y="835" font-size="10.0" fill="#000" stroke="#000" text-anchor="start" textLength="54.51" lengthAdjust="spacingAndGlyphs" >17 Mar 08:00</text>
<text x="196.5" y="835" font-size="10.0" fill="#000" stroke="#000" text-anchor="start" textLength="54.51" lengthAdjust="spacingAndGlyphs" >20 Mar 00:00</text>
<text x="260.5" y="835" font-size="10.0" fill="#000" stroke="#000" text-anchor="start" textLength="54.51" lengthAdjust="spacingAndGlyphs" >20 Mar 16:00</text>
<text x="324.5" y="835" font-size="10.0" fill="#000" stroke="#000" text-anchor="start" textLength="54.51" lengthAdjust="spacingAndGlyphs" >21 Mar 08:00</text>
<text x="388.5" y="835" font-size="10.0" fill="#000" stroke="#000" text-anchor="start" textLength="54.51" lengthAdjust="spacingAndGlyphs" >22 Mar 00:00</text>
<text x="452.5" y="835" font-size="10.0" fill="#000" stroke="#000" text-anchor="start" textLength="54.51" lengthAdjust="spacingAndGlyphs" >22 Mar 16:00</text>
<text x="516.5" y="835" font-size="10.0" fill="#000" stroke="#000" text-anchor="start" textLength="54.51" lengthAdjust="spacingAndGlyphs" >23 Mar 08:00</text>
<text x="580.5" y="835" font-size="10.0" fill="#000" stroke="#000" text-anchor="start" textLength="54.51" lengthAdjust="spacingAndGlyphs" >24 Mar 00:00</text>
<text x="644.5" y="835" font-size="10.0" fill="#000" stroke="#000" text-anchor="start" textLength="54.51" lengthAdjust="spacingAndGlyphs" >24 Mar 16:00</text>
<text x="708.5" y="835" font-size="10.0" fill="#000" stroke="#000" text-anchor="start" textLength="54.51" lengthAdjust="spacingAndGlyphs" >27 Mar 08:00</text>
<text x="772.5" y="835" font-size="10.0" fill="#000" stroke="#000" text-anchor="start" textLength="54.51" lengthAdjust="spacingAndGlyphs" >28 Mar 00:00</text>
<text x="836.5" y="835" font-size="10.0" fill="#000" stroke="#000" text-anchor="start" textLength="54.51" lengthAdjust="spacingAndGlyphs" >28 Mar 16:00</text>
<text x="900.5" y="835" font-size="10.0" fill="#000" stroke="#000" text-anchor="start" textLength="54.51" lengthAdjust="spacingAndGlyphs" >29 Mar 08:00</text>
<text x="964.5" y="835" font-size="10.0" fill="#000" stroke="#000" text-anchor="start" textLength="54.51" lengthAdjust="spacingAndGlyphs" >30 Mar 00:00</text>
<text x="1028.5" y="835" font-size="10.0" fill="#000" stroke="#000" text-anchor="start" textLength="54.51" lengthAdjust="spacingAndGlyphs" >30 Mar 16:00</text>
<text x="1092.5" y="835" font-size="10.0" fill="#000" stroke="#000" text-anchor="start" textLength="54.51" lengthAdjust="spacingAndGlyphs" >31 Mar 08:00</text>
<text x="1156.5" y="835" font-size="10.0" fill="#000" stroke="#000" text-anchor="start" textLength="48.74" lengthAdjust="spacingAndGlyphs" >3 Apr 00:00</text>
<text x="1220.5" y="835" font-size="10.0" fill="#000" stroke="#000" text-anchor="start" textLength="48.74" lengthAdjust="spacingAndGlyphs" >3 Apr 16:00</text>
<text x="1284.5" y="835" font-size="10.0" fill="#000" stroke="#000" text-anchor="start" textLength="48.74" lengthAdjust="spacingAndGlyphs" >4 Apr 08:00</text>
<polygon points="8.4,34 15.6,34 12,37.9" fill="#000"/>
<text x="20.7" y="39" font-size="10.0" fill="#000" stroke="#000" text-anchor="start" textLength="52.9" lengthAdjust="spacingAndGlyphs" >USDJPY-,H4</text>
<text x="80.4" y="39" font-size="10.0" fill="#000" stroke="#000" text-anchor="start" textLength="140.1" lengthAdjust="spacingAndGlyphs" >131.637 131.733 131.635 131.727</text>
<text x="9.4" y="643" font-size="10.0" fill="#000" stroke="#000" text-anchor="start" textLength="130.2" lengthAdjust="spacingAndGlyphs" >MACD(12,26,9) -0.0545 0.1616</text>
<text x="9.3" y="746" font-size="10.0" fill="#000" stroke="#000" text-anchor="start" textLength="67.3" lengthAdjust="spacingAndGlyphs" >RSI(14) 42.7444</text>
</g>
</svg>
</body></html>
